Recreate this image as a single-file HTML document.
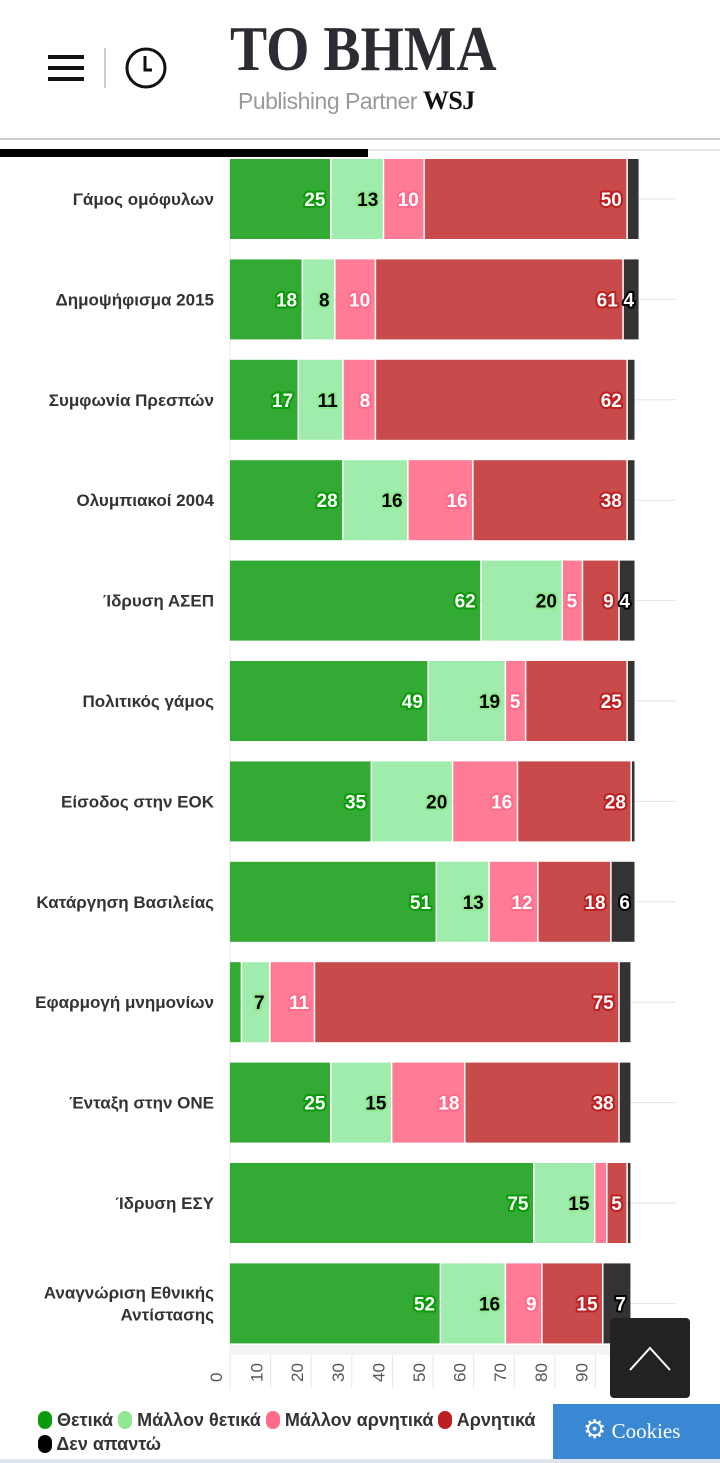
<!DOCTYPE html>
<html><head><meta charset="utf-8">
<style>
body{margin:0;width:720px;height:1463px;background:#fff;overflow:hidden;font-family:"Liberation Sans",sans-serif;position:relative}
.abs{position:absolute}
</style></head><body>
<div class="abs" style="left:48px;top:55px;width:36px;height:26px">
<div style="height:4px;background:#111;margin-bottom:7px"></div><div style="height:4px;background:#111;margin-bottom:7px"></div><div style="height:4px;background:#111"></div></div>
<div class="abs" style="left:104px;top:48px;width:2px;height:40px;background:#ccc"></div>
<svg class="abs" style="left:124px;top:46px" width="44" height="44"><circle cx="22" cy="22" r="19" fill="none" stroke="#111" stroke-width="3"/><path d="M21 10V24H28" fill="none" stroke="#111" stroke-width="3"/></svg>
<div class="abs" style="left:230px;top:12px;font-family:'Liberation Serif',serif;font-weight:bold;font-size:64px;color:#2b2d33;transform:scaleX(0.87);transform-origin:left;letter-spacing:0px">TO BHMA</div>
<div class="abs" style="left:238px;top:86px;font-size:23px;color:#999;letter-spacing:-0.5px">Publishing Partner <span style="font-family:'Liberation Serif',serif;color:#111;font-weight:bold;font-size:26px">WSJ</span></div>
<div class="abs" style="left:0;top:138px;width:720px;height:2px;background:#ccc"></div>
<div class="abs" style="left:0;top:149px;width:720px;height:2px;background:#e6e6e6"></div>
<div class="abs" style="left:0;top:149px;width:368px;height:8px;background:#000"></div>
<svg class="abs" id="chart" style="left:0;top:0" width="720" height="1463"></svg>
<div class="abs" style="left:38px;top:1408px;width:530px;font-weight:bold;font-size:18px;color:#333;line-height:24px">
<span><i style="display:inline-block;width:14px;height:18px;border-radius:7px;background:#0a9a0a;vertical-align:-3px"></i> Θετικά</span>
<span><i style="display:inline-block;width:14px;height:18px;border-radius:7px;background:#90e890;vertical-align:-3px"></i> Μάλλον θετικά</span>
<span><i style="display:inline-block;width:14px;height:18px;border-radius:7px;background:#ff6b8a;vertical-align:-3px"></i> Μάλλον αρνητικά</span>
<span><i style="display:inline-block;width:14px;height:18px;border-radius:7px;background:#bb1f22;vertical-align:-3px"></i> Αρνητικά</span><br>
<span><i style="display:inline-block;width:14px;height:18px;border-radius:7px;background:#000;vertical-align:-3px"></i> Δεν απαντώ</span>
</div>
<div class="abs" style="left:610px;top:1318px;width:80px;height:80px;background:#222;border-radius:4px"><svg width="80" height="80"><path d="M20 52L40 30L60 52" fill="none" stroke="#fff" stroke-width="2"/></svg></div>
<div class="abs" style="left:553px;top:1404px;width:167px;height:55px;background:#3a87d4;color:#fff;font-family:'Liberation Serif',serif;font-size:21px;line-height:52px"><span style="margin-left:30px;font-size:26px">⚙</span> Cookies</div>
<div class="abs" style="left:0;top:1459px;width:720px;height:4px;background:#e0e4ee"></div>
<script>
const categories=["Γάμος ομόφυλων","Δημοψήφισμα 2015","Συμφωνία Πρεσπών","Ολυμπιακοί 2004","Ίδρυση ΑΣΕΠ","Πολιτικός γάμος","Είσοδος στην ΕΟΚ","Κατάργηση Βασιλείας","Εφαρμογή μνημονίων","Ένταξη στην ΟΝΕ","Ίδρυση ΕΣΥ","Αναγνώριση Εθνικής|Αντίστασης"];
const positive=[25,18,17,28,62,49,35,51,3,25,75,52];
const ratherPositive=[13,8,11,16,20,19,20,13,7,15,15,16];
const ratherNegative=[10,10,8,16,5,5,16,12,11,18,3,9];
const negative=[50,61,62,38,9,25,28,18,75,38,5,15];
const noAnswer=[3,4,2,2,4,2,1,6,3,3,1,7];
const ticks=[0,10,20,30,40,50,60,70,80,90];
const svg=document.getElementById('chart');
const NS='http://www.w3.org/2000/svg';
const x0=230,pxu=4.06,top0=159,step=100.4,bh=80;
const X=v=>x0+v*pxu;
const Y=i=>top0+i*step;
function mk(t,a){const e=document.createElementNS(NS,t);for(const k in a)e.setAttribute(k,a[k]);svg.appendChild(e);return e;}
const series=[[positive,'#33aa33','#fff','#0a9a0a'],[ratherPositive,'#a0ecac','#000','#90e890'],[ratherNegative,'#ff7b96','#fff','#ff6b8a'],[negative,'#c94a4a','#fff','#bb1f22'],[noAnswer,'#333','#fff','#000']];
categories.forEach((c,i)=>{const g=mk('line',{x1:230,x2:676,y1:Y(i)+bh/2,y2:Y(i)+bh/2,stroke:'#e6e6e6'});

});
const ax=mk('line',{x1:230,x2:230,y1:159,y2:1355,stroke:'#eee'});


const bl=mk('rect',{x:230,y:1345,width:420,height:10,fill:'#f3f3f3'});


ticks.forEach(t=>{const l=mk('line',{x1:X(t),x2:X(t),y1:1355,y2:1388,stroke:'#e6e6e6'});


const tx=mk('text',{x:0,y:0,transform:`translate(${X(t)-8},1382) rotate(-90)`,'font-size':17,fill:'#555','font-family':'Liberation Sans, sans-serif'});
tx.textContent=t;

});
categories.forEach((c,i)=>{
const parts=c.split('|');
parts.forEach((p,k)=>{const t=mk('text',{x:214,y:Y(i)+bh/2+6+(k-(parts.length-1)/2)*22,'text-anchor':'end','font-size':17,'font-weight':'bold',fill:'#333','font-family':'Liberation Sans, sans-serif'});t.textContent=p;

});
let acc=0;
series.forEach(([arr,col,tc,sc],s)=>{const v=arr[i];
const r=mk('rect',{x:X(acc),y:Y(i),width:Math.max(0,v*pxu-1.5),height:bh,fill:col});


if(v>=4){const t=mk('text',{x:X(acc+v)-6,y:Y(i)+bh/2+7,'text-anchor':'end','font-size':19,'font-weight':'bold',fill:tc,stroke:sc,'stroke-width':4,'paint-order':'stroke','stroke-linejoin':'round','font-family':'Liberation Sans, sans-serif'});t.textContent=v;

}
acc+=v;});
});
</script>
</body></html>
